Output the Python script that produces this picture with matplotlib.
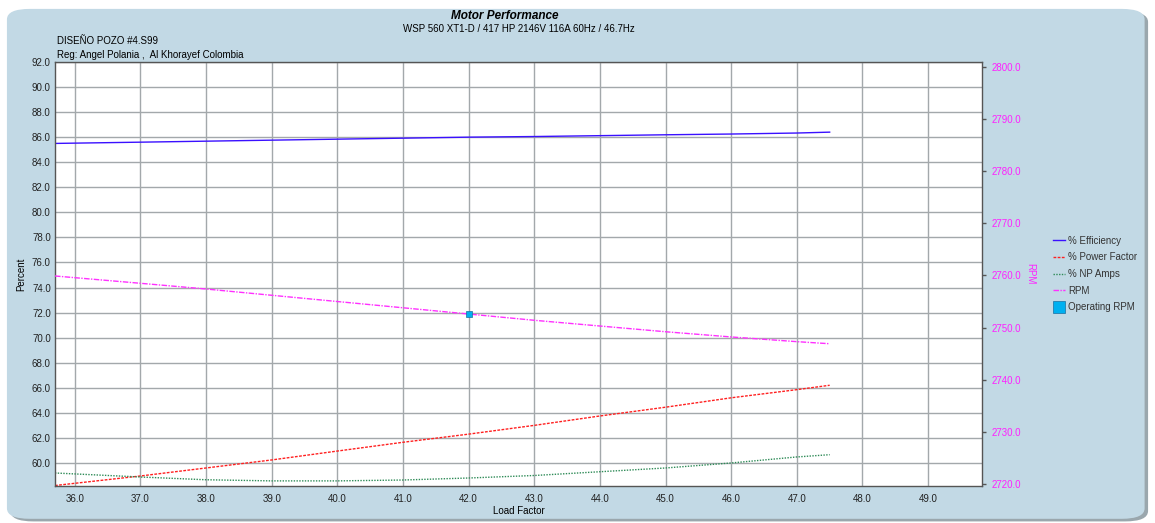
import matplotlib
matplotlib.use('Agg')
import matplotlib.pyplot as plt
from matplotlib.patches import FancyBboxPatch

plt.rcParams['font.family'] = ['Liberation Sans', 'DejaVu Sans']

# data
load = [35.7, 37.0, 38.0, 39.0, 40.0, 41.0, 42.0, 43.0, 44.0, 45.0, 46.0, 47.0, 47.5]
efficiency = [85.5, 85.6, 85.68, 85.76, 85.84, 85.92, 86.0, 86.05, 86.12, 86.19, 86.25, 86.33, 86.4]
power_factor = [58.2, 58.96, 59.6, 60.24, 60.95, 61.65, 62.3, 63.0, 63.75, 64.45, 65.2, 65.85, 66.2]
np_amps = [59.2, 58.88, 58.66, 58.57, 58.57, 58.64, 58.8, 59.0, 59.3, 59.6, 60.0, 60.48, 60.66]
rpm = [2759.9, 2758.5, 2757.4, 2756.2, 2755.0, 2753.8, 2752.6, 2751.4, 2750.3, 2749.2, 2748.2, 2747.3, 2746.9]
op_load = [42.0]
op_rpm = [2752.6]

x_ticks = [36.0, 37.0, 38.0, 39.0, 40.0, 41.0, 42.0, 43.0, 44.0, 45.0, 46.0, 47.0, 48.0, 49.0]
y_ticks = [60.0, 62.0, 64.0, 66.0, 68.0, 70.0, 72.0, 74.0, 76.0, 78.0, 80.0, 82.0, 84.0, 86.0, 88.0, 90.0, 92.0]
rpm_ticks = [2720.0, 2730.0, 2740.0, 2750.0, 2760.0, 2770.0, 2780.0, 2790.0, 2800.0]

title = 'Motor Performance'
subtitle = 'WSP 560 XT1-D / 417 HP 2146V 116A 60Hz / 46.7Hz'
note1 = 'DISEÑO POZO #4.S99'
note2 = 'Reg: Angel Polania ,  Al Khorayef Colombia'

FS = 7

fig = plt.figure(figsize=(11.55, 5.23), dpi=100)
fig.patch.set_facecolor('white')

# rounded blue panel with a faint shadow behind everything
shadow = FancyBboxPatch((0.009, 0.003), 0.985, 0.975, boxstyle='round,pad=0,rounding_size=0.02',
                        transform=fig.transFigure, facecolor='#9aa7ad', edgecolor='none', zorder=-2)
panel = FancyBboxPatch((0.006, 0.008), 0.985, 0.975, boxstyle='round,pad=0,rounding_size=0.02',
                       transform=fig.transFigure, facecolor='#c2d9e5', edgecolor='none', zorder=-1)
fig.patches.extend([shadow, panel])

ax = fig.add_axes([0.0476, 0.0707, 0.8026, 0.8108])
ax.set_facecolor('white')
ax.set_xlim(35.7, 49.82)
ax.set_ylim(58.16, 92.0)
ax.set_xticks(x_ticks)
ax.set_xticklabels([f'{v:.1f}' for v in x_ticks])
ax.set_yticks(y_ticks)
ax.set_yticklabels([f'{v:.1f}' for v in y_ticks])
ax.tick_params(axis='x', length=0, labelsize=FS, colors='#222222', pad=6)
ax.tick_params(axis='y', length=0, labelsize=FS, colors='#222222', pad=3)
ax.grid(True, color='#a3a8ab', linewidth=1.0)
ax.set_axisbelow(True)
for s in ax.spines.values():
    s.set_color('#555555')
    s.set_linewidth(1.0)
ax.set_xlabel('Load Factor', fontsize=FS, labelpad=1)
ax.set_ylabel('Percent', fontsize=FS, labelpad=4)

l1, = ax.plot(load, efficiency, color='#3a10ff', lw=1.0, label='% Efficiency')
l2, = ax.plot(load, power_factor, color='#ff2020', lw=1.0, ls=(0, (2, 1)), label='% Power Factor')
l3, = ax.plot(load, np_amps, color='#2e8b57', lw=1.0, ls=(0, (1, 1)), label='% NP Amps')

ax2 = ax.twinx()
ax2.set_ylim(2719.6, 2800.96)
ax2.set_yticks(rpm_ticks)
ax2.set_yticklabels([f'{v:.1f}' for v in rpm_ticks])
ax2.tick_params(axis='y', length=3, width=1, color='#555555', labelsize=FS, labelcolor='#ff20ff', pad=4)
ax2.set_ylabel('RPM', color='#ff20ff', fontsize=FS, rotation=270, labelpad=10)
for s in ax2.spines.values():
    s.set_visible(False)

l4, = ax2.plot(load, rpm, color='#ff30ff', lw=1.0, ls=(0, (4, 1, 1, 1)), label='RPM')
l5, = ax2.plot(op_load, op_rpm, ls='none', marker='s', ms=4, color='#00b0f0',
               markeredgecolor='#1a6fa0', markeredgewidth=0.5, label='Operating RPM')

leg = fig.legend(handles=[l1, l2, l3, l4, l5], loc='upper left', bbox_to_anchor=(0.904, 0.566),
                 frameon=False, fontsize=FS, handlelength=1.2, handletextpad=0.4,
                 labelspacing=0.68, labelcolor='#333333')
leg.legend_handles[4].set_markersize(8)

fig.text(0.437, 0.970, title, ha='center', va='center', fontsize=8.5, fontweight='bold', style='italic')
fig.text(0.449, 0.944, subtitle, ha='center', va='center', fontsize=FS)
fig.text(0.049, 0.921, note1, ha='left', va='center', fontsize=FS)
fig.text(0.049, 0.895, note2, ha='left', va='center', fontsize=FS)

fig.savefig('out.png', dpi=100, facecolor=fig.get_facecolor())
